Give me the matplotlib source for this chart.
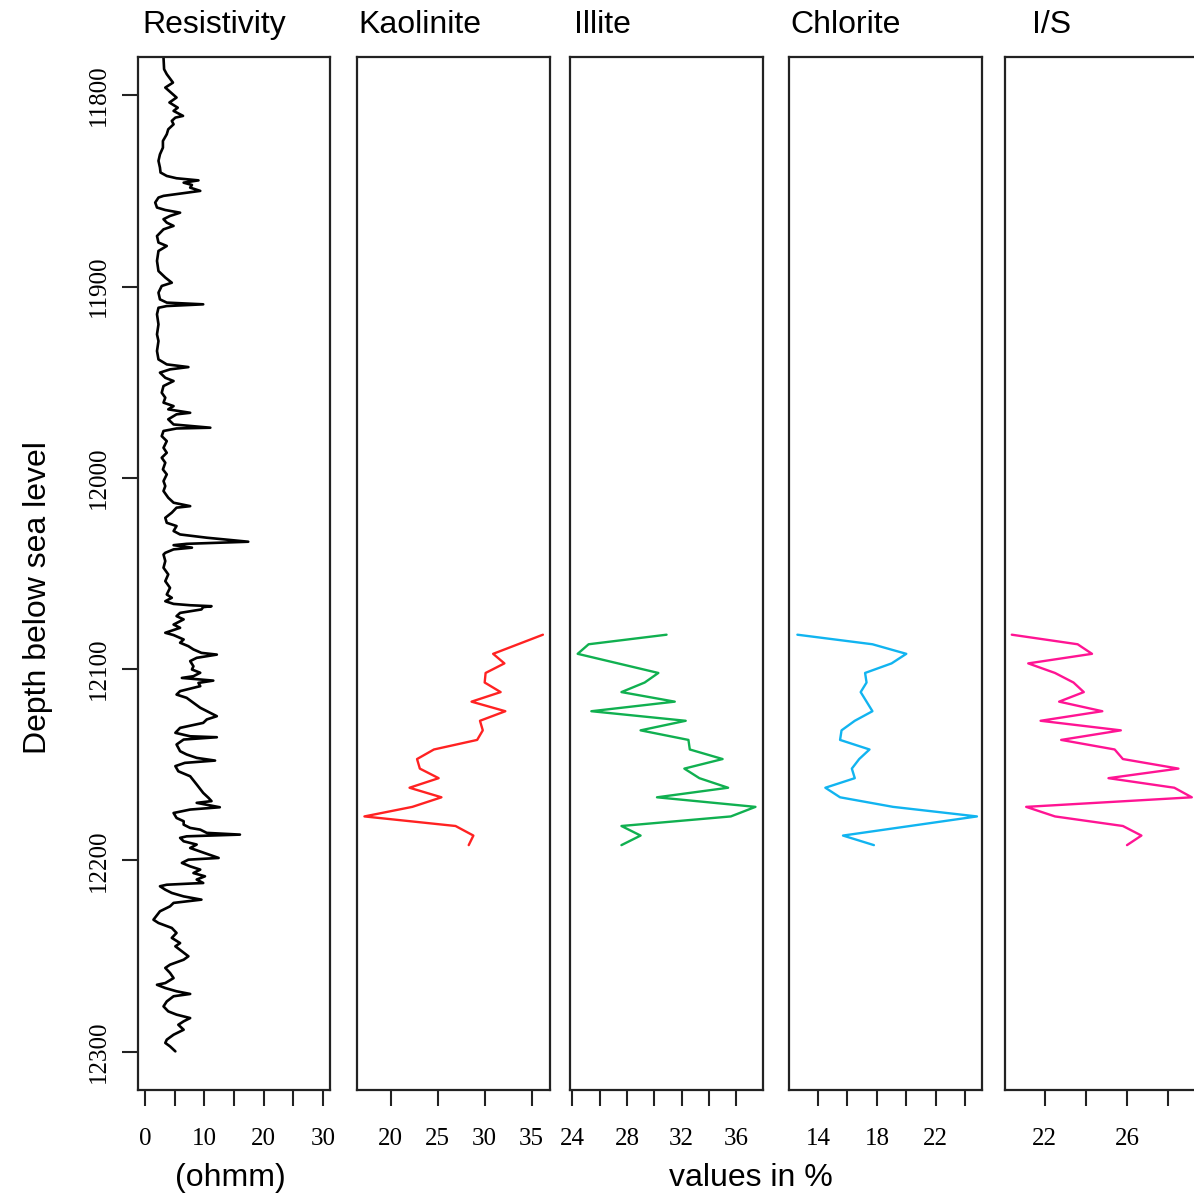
import numpy as np
import matplotlib
matplotlib.use("Agg")
import matplotlib.pyplot as plt

# resistivity log (depth in ft, ohmm)
res_depth = [
    11780.3, 11786.4, 11789.0, 11793.4, 11796.0, 11801.2, 11803.8, 11806.5, 11808.2, 11810.8,
    11811.7, 11813.4, 11815.2, 11817.8, 11820.4, 11823.9, 11827.4, 11830.9, 11834.3, 11837.8,
    11840.4, 11842.2, 11843.4, 11844.5, 11845.7, 11846.9, 11848.3, 11850.0, 11851.4, 11852.6,
    11853.5, 11856.1, 11858.7, 11860.0, 11861.4, 11863.1, 11864.8, 11866.6, 11868.3, 11870.1,
    11873.6, 11877.0, 11878.8, 11881.4, 11886.6, 11891.9, 11895.3, 11898.0, 11899.7, 11903.2,
    11906.7, 11908.4, 11909.3, 11910.2, 11911.1, 11914.5, 11919.8, 11925.0, 11928.5, 11933.7,
    11938.1, 11940.7, 11942.1, 11943.3, 11945.0, 11947.7, 11949.4, 11952.0, 11955.5, 11958.1,
    11960.7, 11962.5, 11964.2, 11966.0, 11966.8, 11969.4, 11972.1, 11973.8, 11974.2, 11975.5,
    11978.2, 11980.8, 11984.3, 11986.9, 11989.5, 11992.1, 11995.6, 11998.2, 12001.7, 12004.3,
    12006.9, 12010.4, 12013.0, 12014.8, 12015.6, 12018.2, 12020.9, 12023.5, 12025.2, 12027.8,
    12029.6, 12031.3, 12033.4, 12034.5, 12035.2, 12036.5, 12037.4, 12039.2, 12040.1, 12043.5,
    12047.0, 12050.5, 12054.0, 12057.5, 12061.0, 12062.7, 12064.5, 12065.9, 12066.6, 12067.1,
    12067.6, 12068.8, 12070.6, 12072.3, 12074.0, 12076.7, 12078.4, 12081.0, 12082.2, 12084.5,
    12086.2, 12088.0, 12089.7, 12091.5, 12092.4, 12094.1, 12095.8, 12098.5, 12100.2, 12101.9,
    12103.7, 12104.6, 12106.0, 12107.2, 12108.9, 12111.5, 12113.3, 12115.0, 12117.6, 12120.2,
    12122.9, 12124.6, 12126.3, 12128.1, 12130.7, 12133.3, 12135.1, 12135.6, 12136.8, 12139.4,
    12142.9, 12144.6, 12146.4, 12147.8, 12149.0, 12150.7, 12153.4, 12156.0, 12160.3, 12164.7,
    12167.3, 12169.0, 12169.9, 12172.2, 12173.4, 12175.2, 12177.8, 12179.5, 12181.3, 12183.0,
    12183.9, 12185.6, 12186.5, 12187.4, 12188.2, 12190.0, 12191.7, 12193.5, 12198.7, 12199.6,
    12201.3, 12203.1, 12204.8, 12206.6, 12208.3, 12210.0, 12211.8, 12212.1, 12212.7, 12213.5,
    12215.3, 12217.0, 12218.8, 12220.5, 12222.2, 12224.0, 12226.6, 12231.0, 12232.7, 12235.3,
    12237.9, 12240.5, 12243.2, 12244.9, 12247.5, 12250.1, 12251.9, 12254.5, 12256.2, 12258.8,
    12261.5, 12264.1, 12265.0, 12266.7, 12268.4, 12269.8, 12271.0, 12273.7, 12276.3, 12278.9,
    12280.6, 12282.4, 12284.1, 12285.9, 12288.5, 12291.1, 12293.7, 12295.4, 12297.2, 12299.8,
]
res_value = [
    3.1, 3.2, 3.65, 4.7, 3.4, 5.3, 4.1, 5.5, 4.8, 6.4,
    5.1, 4.5, 4.8, 3.9, 3.65, 3.0, 3.0, 2.5, 2.25, 2.5,
    2.6, 3.65, 5.3, 9.0, 6.5, 7.9, 7.6, 9.3, 5.9, 3.1,
    2.25, 1.7, 2.0, 3.4, 5.9, 4.2, 3.1, 3.65, 4.8, 3.1,
    2.0, 2.25, 3.65, 2.25, 2.0, 2.25, 3.4, 4.5, 2.8, 2.25,
    2.5, 3.65, 9.8, 3.65, 2.25, 2.0, 2.25, 2.0, 2.25, 2.0,
    2.25, 3.65, 7.3, 4.2, 2.5, 3.4, 4.8, 3.1, 2.8, 3.4,
    3.1, 4.8, 3.9, 7.6, 5.3, 3.9, 4.8, 11.0, 5.3, 3.1,
    2.8, 3.65, 3.1, 3.65, 2.8, 3.4, 3.0, 3.65, 3.1, 3.4,
    3.1, 3.9, 4.8, 7.6, 5.3, 4.5, 3.4, 3.65, 5.3, 4.8,
    5.9, 10.4, 17.4, 7.0, 4.8, 7.9, 4.8, 3.4, 3.1, 3.4,
    3.1, 3.9, 3.4, 4.2, 3.65, 4.5, 3.4, 4.8, 7.6, 11.2,
    9.8, 9.5, 5.9, 5.3, 6.5, 4.8, 5.9, 3.4, 4.8, 6.5,
    5.9, 7.3, 8.15, 9.5, 12.1, 8.7, 7.6, 8.15, 7.9, 9.3,
    8.15, 6.2, 11.5, 9.0, 9.3, 5.9, 5.3, 7.0, 8.15, 9.3,
    11.0, 12.1, 10.4, 9.8, 5.9, 5.1, 7.6, 12.1, 6.5, 5.3,
    5.9, 7.0, 8.7, 11.8, 6.7, 5.1, 5.6, 7.6, 8.7, 9.8,
    10.7, 11.2, 8.7, 12.6, 7.6, 4.8, 5.3, 6.5, 6.5, 7.6,
    9.3, 10.4, 16.0, 7.0, 5.9, 6.5, 8.7, 7.6, 12.4, 7.3,
    6.2, 7.6, 9.3, 8.15, 10.1, 8.7, 9.8, 7.6, 3.65, 2.5,
    3.4, 4.5, 6.5, 9.5, 4.8, 4.2, 2.5, 1.4, 2.25, 4.5,
    5.3, 4.5, 5.9, 5.1, 6.2, 7.3, 6.5, 4.2, 3.4, 4.2,
    4.8, 3.4, 2.0, 3.4, 5.3, 7.6, 4.8, 3.65, 3.1, 3.9,
    5.3, 7.6, 6.5, 5.6, 6.5, 4.8, 3.65, 3.4, 4.2, 5.1,
]

# clay minerals (%), sampled every ~5 ft
kaol_depth = [12082, 12092, 12097, 12102, 12107, 12112, 12117, 12122, 12127, 12132, 12137,
              12142, 12147, 12152, 12157, 12162, 12167, 12172, 12177, 12182, 12187, 12192]
kaol_value = [36.2, 30.9, 32.1, 30.1, 30.0, 31.7, 28.6, 32.2, 29.5, 29.8, 29.2,
              24.6, 22.8, 23.1, 25.1, 22.0, 25.4, 22.3, 17.2, 26.9, 28.8, 28.3]

illite_depth = [12082, 12087, 12092, 12102, 12107, 12112, 12117, 12122, 12127, 12132, 12137,
                12142, 12147, 12152, 12157, 12162, 12167, 12172, 12177, 12182, 12187, 12192]
illite_value = [30.9, 25.2, 24.4, 30.3, 29.3, 27.6, 31.5, 25.4, 32.3, 29.0, 32.5,
                32.6, 35.0, 32.2, 33.3, 35.4, 30.2, 37.4, 35.6, 27.6, 29.0, 27.6]

chlor_depth = [12082, 12087, 12092, 12097, 12102, 12107, 12112, 12117, 12122, 12127, 12132,
               12137, 12142, 12147, 12152, 12157, 12162, 12167, 12172, 12177, 12187, 12192]
chlor_value = [12.6, 17.7, 20.0, 19.0, 17.2, 17.3, 16.9, 17.3, 17.7, 16.5, 15.6,
               15.5, 17.5, 16.8, 16.3, 16.5, 14.5, 15.5, 19.1, 24.8, 15.7, 17.8]

is_depth = [12082, 12087, 12092, 12097, 12102, 12107, 12112, 12117, 12122, 12127, 12132, 12137,
            12142, 12147, 12152, 12157, 12162, 12167, 12172, 12177, 12182, 12187, 12192]
is_value = [20.4, 23.6, 24.3, 21.2, 22.5, 23.4, 23.9, 22.7, 24.8, 21.8, 25.7, 22.8,
            25.4, 25.8, 28.5, 25.1, 28.3, 29.15, 21.1, 22.5, 25.8, 26.7, 26.0]

depth_ticks = [11800, 11900, 12000, 12100, 12200, 12300]

SANS = "Liberation Sans"
SERIF = "Liberation Serif"
EDGE = "#222222"

fig = plt.figure(figsize=(11.94, 11.97), dpi=100)

bottom, height = 0.0894, 0.863
panels = [
    # left, width, xlim, ticks, labelled ticks, colour, line width
    (0.1156, 0.1608, (-1.2, 31.2), [0, 5, 10, 15, 20, 25, 30], [0, 10, 20, 30], "black", 1.9),
    (0.2990, 0.1616, (16.41, 36.95), [20, 25, 30, 35], [20, 25, 30, 35], "#FF2222", 1.7),
    (0.4774, 0.1616, (23.84, 37.95), [24, 26, 28, 30, 32, 34, 36], [24, 28, 32, 36], "#10B050", 1.7),
    (0.6608, 0.1616, (12.03, 25.14), [14, 16, 18, 20, 22, 24], [14, 18, 22], "#11B4F0", 1.7),
    (0.8417, 0.1625, (20.07, 29.5), [22, 24, 26, 28], [22, 26], "#FF1493", 1.7),
]
series = [
    (res_value, res_depth),
    (kaol_value, kaol_depth),
    (illite_value, illite_depth),
    (chlor_value, chlor_depth),
    (is_value, is_depth),
]

axes = []
for (left, width, xlim, ticks, shown, col, lw), (xv, yv) in zip(panels, series):
    ax = fig.add_axes([left, bottom, width, height])
    ax.plot(xv, yv, color=col, lw=lw, solid_joinstyle="round", solid_capstyle="round")
    ax.set_xlim(*xlim)
    ax.set_ylim(12320, 11780)
    ax.set_xticks(ticks)
    ax.set_xticklabels([str(t) if t in shown else "" for t in ticks])
    ax.tick_params(axis="x", direction="out", length=11.5, width=1.5, color=EDGE, pad=16,
                   labelsize=18)
    for lab in ax.get_xticklabels():
        lab.set_family(SERIF)
    for sp in ax.spines.values():
        sp.set_color(EDGE)
        sp.set_linewidth(1.6)
    if axes:
        ax.set_yticks([])
    else:
        ax.set_yticks(depth_ticks)
        ax.tick_params(axis="y", direction="out", length=11.5, width=1.5, color=EDGE, pad=9,
                       labelsize=18)
        for lab in ax.get_yticklabels():
            lab.set_family(SERIF)
            lab.set_rotation(90)
            lab.set_va("center")
    axes.append(ax)

titles = ["Resistivity", "Kaolinite", "Illite", "Chlorite", "I/S"]
title_x = [142, 358, 574, 790, 1032]
for t, px in zip(titles, title_x):
    fig.text(px / 1194, 0.9724, t, family=SANS, fontsize=23, ha="left", va="baseline")

fig.text(38 / 1194, 1 - 598 / 1197, "Depth below sea level", family=SANS, fontsize=23,
         rotation=90, ha="center", va="center")
fig.text(230 / 1194, 1 - 1178 / 1197, "(ohmm)", family=SANS, fontsize=23,
         ha="center", va="center")
fig.text(751 / 1194, 1 - 1178 / 1197, "values in %", family=SANS, fontsize=23,
         ha="center", va="center")

fig.savefig("out.png", dpi=100)
